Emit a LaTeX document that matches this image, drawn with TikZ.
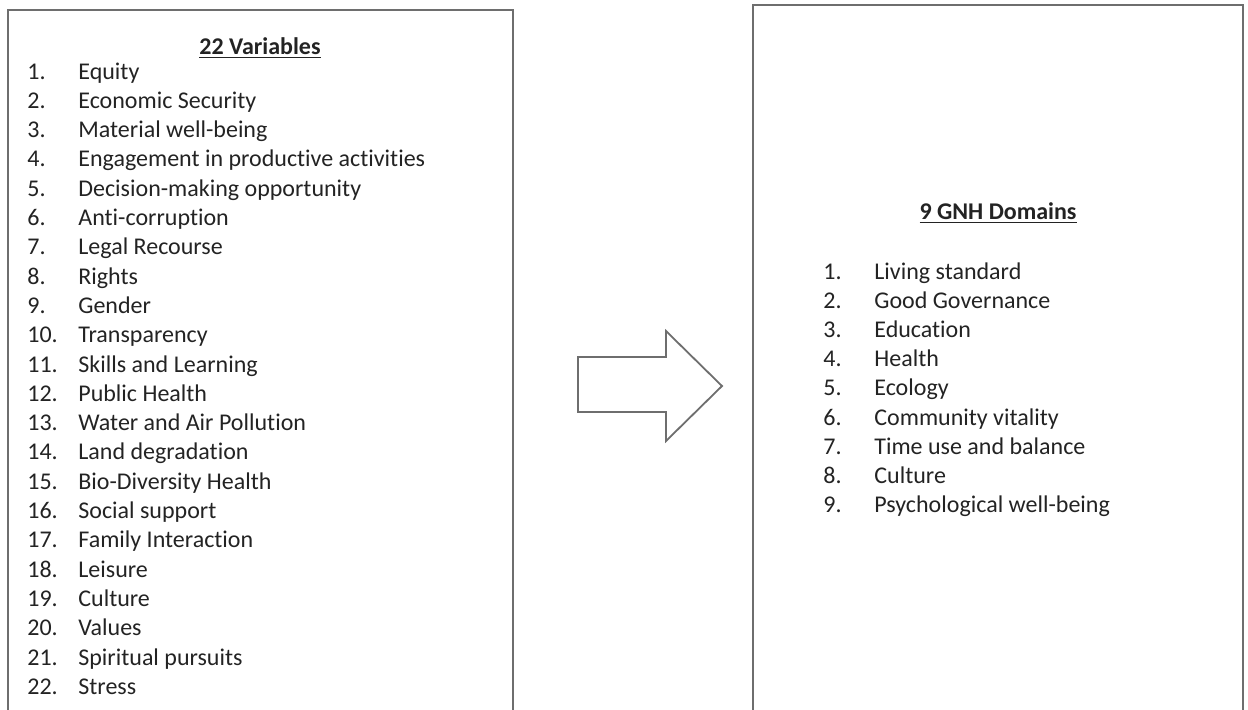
\documentclass[tikz,border=0pt]{standalone}
\usepackage{fontspec}
\setmainfont{Carlito}[RawFeature=-liga]
\usepackage{tikz}
\usetikzlibrary{calc}
\definecolor{boxgray}{RGB}{110,110,110}
\definecolor{inkgray}{RGB}{35,35,35}
\tikzset{
    item/.style={anchor=base west, inner sep=0pt, text=inkgray, font=\fontsize{12pt}{14pt}\selectfont},
    head/.style={anchor=base, inner sep=0pt, text=inkgray, font=\fontsize{12pt}{14pt}\selectfont\bfseries},
    frame/.style={boxgray, line width=0.9pt}
}
\newcommand{\num}[1]{\makebox[25.5pt][l]{#1}}

\begin{document}
\begin{tikzpicture}[x=0.5pt, y=-0.5pt]
    \useasboundingbox (0,0) rectangle (1248,709);
    \def\d{29.3};
    \def\e{29.2};
    % left box, its bottom edge is cut off
    \draw[frame] (8,712) -- (8,10) -- (513,10) -- (513,712);
    \node[head] at (260,54) (variables) {\underline{22 Variables}};
    \node[item] at (27,79+0*\d) (equity) {\num{1.}Equity};
    \node[item] at (27,79+1*\d) (econsec) {\num{2.}Economic Security};
    \node[item] at (27,79+2*\d) (material) {\num{3.}Material well-being};
    \node[item] at (27,79+3*\d) (engagement) {\num{4.}Engagement in productive activities};
    \node[item] at (27,79+4*\d) (decision) {\num{5.}Decision-making opportunity};
    \node[item] at (27,79+5*\d) (anticorr) {\num{6.}Anti-corruption};
    \node[item] at (27,79+6*\d) (recourse) {\num{7.}Legal Recourse};
    \node[item] at (27,79+7*\d) (rights) {\num{8.}Rights};
    \node[item] at (27,79+8*\d) (gender) {\num{9.}Gender};
    \node[item] at (27,79+9*\d) (transparency) {\num{10.}Transparency};
    \node[item] at (27,79+10*\d) (skills) {\num{11.}Skills and Learning};
    \node[item] at (27,79+11*\d) (pubhealth) {\num{12.}Public Health};
    \node[item] at (27,79+12*\d) (pollution) {\num{13.}Water and Air Pollution};
    \node[item] at (27,79+13*\d) (land) {\num{14.}Land degradation};
    \node[item] at (27,79+14*\d) (biodiv) {\num{15.}Bio-Diversity Health};
    \node[item] at (27,79+15*\d) (support) {\num{16.}Social support};
    \node[item] at (27,79+16*\d) (family) {\num{17.}Family Interaction};
    \node[item] at (27,79+17*\d) (leisure) {\num{18.}Leisure};
    \node[item] at (27,79+18*\d) (culturev) {\num{19.}Culture};
    \node[item] at (27,79+19*\d) (values) {\num{20.}Values};
    \node[item] at (27,79+20*\d) (spiritual) {\num{21.}Spiritual pursuits};
    \node[item] at (27,79+21*\d) (stress) {\num{22.}Stress};

    % block arrow
    \draw[frame, fill=white] (578,357) -- (666,357) -- (666,331) -- (722,386) -- (666,441) -- (666,412) -- (578,412) -- cycle;

    % right box
    \draw[frame] (753,712) -- (753,5) -- (1243,5) -- (1243,712);
    \node[head] at (998,219) (domains) {\underline{9 GNH Domains}};
    \node[item] at (823,279+0*\e) (living) {\num{1.}Living standard};
    \node[item] at (823,279+1*\e) (governance) {\num{2.}Good Governance};
    \node[item] at (823,279+2*\e) (education) {\num{3.}Education};
    \node[item] at (823,279+3*\e) (health) {\num{4.}Health};
    \node[item] at (823,279+4*\e) (ecology) {\num{5.}Ecology};
    \node[item] at (823,279+5*\e) (community) {\num{6.}Community vitality};
    \node[item] at (823,279+6*\e) (timeuse) {\num{7.}Time use and balance};
    \node[item] at (823,279+7*\e) (cultured) {\num{8.}Culture};
    \node[item] at (823,279+8*\e) (psych) {\num{9.}Psychological well-being};
\end{tikzpicture}
\end{document}
